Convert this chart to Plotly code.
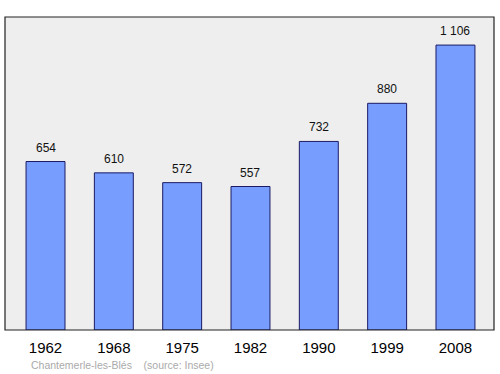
import plotly.graph_objects as go

years = ["1962", "1968", "1975", "1982", "1990", "1999", "2008"]
population = [654, 610, 572, 557, 732, 880, 1106]
commune = "Chantemerle-les-Blés"
source = "(source: Insee)"

def fmt(v):
    return f"{v:,}".replace(",", " ")

xs = list(range(len(years)))

fig = go.Figure()
fig.add_trace(go.Bar(
    x=xs, y=population, width=0.57,
    marker=dict(color="#779eff", line=dict(color="#1a1a66", width=1)),
    hoverinfo="skip",
))

for x, v in zip(xs, population):
    fig.add_annotation(x=x, y=v, text=fmt(v), showarrow=False,
                       yanchor="bottom", yshift=5,
                       font=dict(family="Liberation Sans, Arial", size=12, color="#111"))

fig.add_annotation(xref="paper", yref="paper", x=0.05, y=-0.112,
                   xanchor="left", yanchor="middle", showarrow=False,
                   text=commune + "&nbsp;&nbsp;&nbsp;&nbsp;" + source,
                   font=dict(family="Liberation Sans, Arial", size=10.5, color="#aaaaaa"))

fig.add_shape(type="rect", xref="paper", yref="paper", x0=0, y0=0, x1=1, y1=1,
              line=dict(color="#222", width=1.2), layer="above")

fig.update_layout(
    width=500, height=374,
    margin=dict(l=5, r=6, t=17, b=44),
    paper_bgcolor="white", plot_bgcolor="#eeeeee",
    showlegend=False,
    xaxis=dict(range=[-0.593, 6.564], tickvals=xs, ticktext=years,
               showgrid=False, zeroline=False, ticks="outside", ticklen=4,
               tickcolor="rgba(0,0,0,0)",
               tickfont=dict(family="Liberation Sans, Arial", size=15, color="#000")),
    yaxis=dict(range=[0, 1215], showgrid=False, zeroline=False,
               showticklabels=False, ticks=""),
    font=dict(family="Liberation Sans, Arial"),
)

fig.write_html("out.html")
